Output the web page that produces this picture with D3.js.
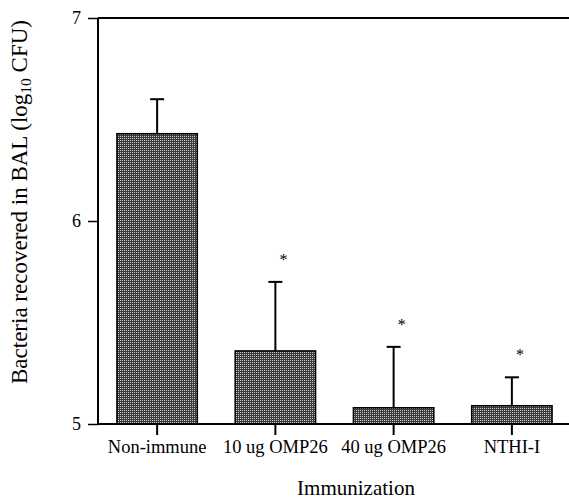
<!DOCTYPE html>
<html>
<head>
<meta charset="utf-8">
<script src="https://cdn.jsdelivr.net/npm/d3@7"></script>
<style>
  body { margin: 0; background: #fff; }
  text { font-family: "Liberation Serif", "Times New Roman", serif; fill: #000; }
</style>
</head>
<body>
<svg id="chart" width="569" height="499"></svg>
<script>
const groups = ['Non-immune', '10 ug OMP26', '40 ug OMP26', 'NTHI-I'];
const means = [6.43, 5.36, 5.08, 5.09];
const errUpper = [6.60, 5.70, 5.38, 5.23];
const significant = [false, true, true, true];
const yTicks = [5, 6, 7];

const svg = d3.select('#chart');

// stipple fill like the print
const pat = svg.append('defs').append('pattern')
  .attr('id', 'stip').attr('width', 2).attr('height', 2).attr('patternUnits', 'userSpaceOnUse');
pat.append('rect').attr('width', 2).attr('height', 2).attr('fill', '#3c3c3c');
pat.append('rect').attr('width', 1).attr('height', 1).attr('fill', '#c8c8c8');

const x = d3.scaleBand().domain(groups).range([98, 571]).paddingInner(0.32).paddingOuter(0.16);
const y = d3.scaleLinear().domain([5, 7]).range([424, 18]);

// top frame line
svg.append('line').attr('x1', 98).attr('x2', 569).attr('y1', y(7)).attr('y2', y(7))
  .attr('stroke', '#000').attr('stroke-width', 2);

// bars
svg.selectAll('rect.bar').data(groups).join('rect')
  .classed('bar', true)
  .attr('x', (d) => x(d))
  .attr('width', x.bandwidth())
  .attr('y', (d, i) => y(means[i]))
  .attr('height', (d, i) => y(5) - y(means[i]))
  .attr('fill', 'url(#stip)')
  .attr('stroke', '#000').attr('stroke-width', 1.5);

// error bars (upper only)
const cx = (d) => x(d) + x.bandwidth() / 2;
svg.selectAll('line.err').data(groups).join('line')
  .classed('err', true)
  .attr('x1', cx).attr('x2', cx)
  .attr('y1', (d, i) => y(means[i])).attr('y2', (d, i) => y(errUpper[i]))
  .attr('stroke', '#000').attr('stroke-width', 2);
svg.selectAll('line.cap').data(groups).join('line')
  .classed('cap', true)
  .attr('x1', (d) => cx(d) - 7).attr('x2', (d) => cx(d) + 7)
  .attr('y1', (d, i) => y(errUpper[i])).attr('y2', (d, i) => y(errUpper[i]))
  .attr('stroke', '#000').attr('stroke-width', 2);

// asterisks
svg.selectAll('text.star').data(groups.filter((d, i) => significant[i])).join('text')
  .classed('star', true)
  .attr('x', (d) => cx(d) + 8)
  .attr('y', (d) => y(errUpper[groups.indexOf(d)]) - 17)
  .attr('text-anchor', 'middle')
  .style('font-size', '16px')
  .style('fill', '#000')
  .text('*');

// y axis
const yAxis = svg.append('g').attr('transform', 'translate(98,0)')
  .call(d3.axisLeft(y).tickValues(yTicks).tickFormat(d3.format('d')).tickSize(10).tickPadding(7));
yAxis.select('.domain').attr('stroke-width', 2).attr('d', `M0,${y(7)}V${y(5)}`);
yAxis.selectAll('.tick line').attr('stroke-width', 1.5);
yAxis.selectAll('text').style('font-size', '18px').style('font-family', '"Liberation Serif", serif');

// x axis
const xAxis = svg.append('g').attr('transform', `translate(0,${y(5)})`)
  .call(d3.axisBottom(x).tickSize(11).tickPadding(5));
xAxis.select('.domain').attr('stroke-width', 2).attr('d', 'M98,0H569');
xAxis.selectAll('.tick line').attr('stroke-width', 2);
xAxis.selectAll('text').style('font-size', '18.5px').style('font-family', '"Liberation Serif", serif');

// axis titles
svg.append('text').attr('x', 356).attr('y', 495).attr('text-anchor', 'middle')
  .style('font-size', '21px').text('Immunization');

const yt = svg.append('text').attr('transform', 'translate(27,202) rotate(-90)')
  .attr('text-anchor', 'middle').style('font-size', '23px');
yt.append('tspan').text('Bacteria recovered in BAL (log');
yt.append('tspan').attr('dy', 4).style('font-size', '15.5px').text('10');
yt.append('tspan').attr('dy', -4).text(' CFU)');
</script>
</body>
</html>
